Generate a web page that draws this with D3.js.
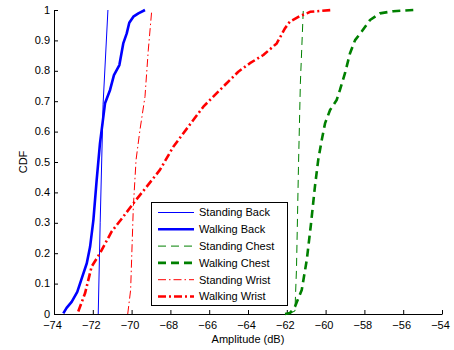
<!DOCTYPE html>
<html>
<head>
<meta charset="utf-8">
<script src="https://cdn.jsdelivr.net/npm/d3@7"></script>
<style>
  html, body { margin: 0; padding: 0; background: white; }
  svg { display: block; font-family: "Liberation Sans", Arial, Helvetica, sans-serif; }
</style>
</head>
<body>
<div id="chart"></div>
<script>
// CDF curves, [amplitude dB, cdf]
const standingBack = [[-71.72, 0], [-71.62, 0.3], [-71.47, 0.69], [-71.22, 1]];
const walkingBack = [
  [-73.52, 0.002], [-73.35, 0.02], [-73.09, 0.04], [-72.80, 0.073], [-72.57, 0.117],
  [-72.31, 0.167], [-72.14, 0.221], [-71.97, 0.309], [-71.80, 0.441], [-71.63, 0.561],
  [-71.37, 0.693], [-71.11, 0.737], [-70.91, 0.786], [-70.63, 0.819], [-70.43, 0.890],
  [-70.25, 0.923], [-70.12, 0.958], [-69.91, 0.978], [-69.65, 0.989], [-69.31, 1.0]
];
const standingChest = [[-61.90, 0], [-61.58, 0.01], [-61.50, 0.15], [-61.40, 0.48], [-61.30, 0.76], [-61.15, 1.0]];
const walkingChest = [
  [-62.09, 0], [-61.84, 0.003], [-61.58, 0.024], [-61.23, 0.079], [-60.97, 0.178],
  [-60.77, 0.287], [-60.55, 0.419], [-60.38, 0.507], [-60.20, 0.572], [-60.03, 0.627],
  [-59.77, 0.671], [-59.43, 0.704], [-59.26, 0.737], [-59.00, 0.792], [-58.74, 0.858],
  [-58.48, 0.901], [-58.14, 0.929], [-57.71, 0.967], [-57.20, 0.989], [-56.51, 0.996],
  [-55.48, 1.0]
];
const standingWrist = [
  [-70.20, 0], [-70.05, 0.079], [-69.91, 0.353], [-69.77, 0.507], [-69.57, 0.605],
  [-69.31, 0.715], [-69.14, 0.868], [-68.96, 1.0]
];
const walkingWrist = [
  [-72.75, 0.008], [-72.40, 0.068], [-72.06, 0.156], [-71.63, 0.2], [-71.03, 0.271],
  [-70.43, 0.32], [-69.91, 0.364], [-69.22, 0.419], [-68.54, 0.474], [-67.85, 0.55],
  [-67.34, 0.594], [-66.82, 0.638], [-66.30, 0.682], [-65.79, 0.715], [-65.10, 0.759],
  [-64.50, 0.797], [-63.90, 0.825], [-63.21, 0.852], [-62.52, 0.89], [-62.09, 0.94],
  [-61.84, 0.962], [-61.32, 0.98], [-60.97, 0.989], [-60.80, 0.994], [-59.69, 1.0]
];

const seriesNames = ["Standing Back", "Walking Back", "Standing Chest", "Walking Chest", "Standing Wrist", "Walking Wrist"];
const seriesData = [standingBack, walkingBack, standingChest, walkingChest, standingWrist, walkingWrist];

const xTicks = [-74, -72, -70, -68, -66, -64, -62, -60, -58, -56, -54];
const yTicks = [0, 0.1, 0.2, 0.3, 0.4, 0.5, 0.6, 0.7, 0.8, 0.9, 1];

// styles per series
const styles = [
  { color: "#0000ff", width: 1, dash: null },
  { color: "#0000ff", width: 2.6, dash: null },
  { color: "#008000", width: 1, dash: "8,5" },
  { color: "#008000", width: 2.6, dash: "8,5" },
  { color: "#ff0000", width: 1, dash: "8,3,1.5,3" },
  { color: "#ff0000", width: 2.6, dash: "8,3,2,3" }
];

const W = 454, H = 350;
const margin = { top: 10, right: 12, bottom: 36, left: 54 };

const svg = d3.select("#chart").append("svg")
  .attr("width", W)
  .attr("height", H)
  .style("background", "white");

const x = d3.scaleLinear().domain([-74, -54]).range([margin.left, W - margin.right]);
const y = d3.scaleLinear().domain([0, 1]).range([H - margin.bottom, margin.top]);

const fmtX = d => (d < 0 ? "\u2212" + Math.abs(d) : String(d));

// x axis
const gx = svg.append("g")
  .attr("transform", `translate(0,${y(0)})`)
  .call(d3.axisBottom(x).tickValues(xTicks).tickSizeInner(-4).tickSizeOuter(0).tickPadding(7).tickFormat(fmtX));
gx.select(".domain").attr("stroke", "#000").attr("stroke-width", 1);
gx.selectAll(".tick line").attr("stroke", "#000");
gx.selectAll(".tick text")
  .attr("font-size", 11)
  .attr("fill", "#000")
  .attr("font-family", "Liberation Sans, Arial, sans-serif")
  .attr("dx", -2);

// y axis
const gy = svg.append("g")
  .attr("transform", `translate(${x(-74)},0)`)
  .call(d3.axisLeft(y).tickValues(yTicks).tickSizeInner(-4).tickSizeOuter(0).tickPadding(4).tickFormat(d3.format("")));
gy.select(".domain").attr("stroke", "#000").attr("stroke-width", 1);
gy.selectAll(".tick line").attr("stroke", "#000");
gy.selectAll(".tick text")
  .attr("font-size", 11)
  .attr("fill", "#000")
  .attr("font-family", "Liberation Sans, Arial, sans-serif")
  .attr("dy", "0.28em");

// axis labels
svg.append("text")
  .attr("x", (x(-74) + x(-54)) / 2)
  .attr("y", 343)
  .attr("text-anchor", "middle")
  .attr("font-size", 11)
  .text("Amplitude (dB)");

svg.append("text")
  .attr("transform", `translate(27,${(y(0) + y(1)) / 2}) rotate(-90)`)
  .attr("text-anchor", "middle")
  .attr("font-size", 11)
  .text("CDF");

// curves
const line = d3.line().x(d => x(d[0])).y(d => y(d[1]));
svg.append("g")
  .selectAll("path")
  .data(seriesData)
  .join("path")
  .attr("d", line)
  .attr("fill", "none")
  .attr("stroke", (d, i) => styles[i].color)
  .attr("stroke-width", (d, i) => styles[i].width)
  .attr("stroke-dasharray", (d, i) => styles[i].dash)
  .attr("stroke-linejoin", "round");

// legend
const lg = svg.append("g").attr("transform", "translate(151,202)");
lg.append("rect")
  .attr("x", 0.5).attr("y", 0.5)
  .attr("width", 136).attr("height", 103)
  .attr("fill", "white")
  .attr("stroke", "#000")
  .attr("stroke-width", 1);

const rowH = 16.8;
const items = lg.selectAll("g.item")
  .data(seriesNames)
  .join("g")
  .attr("class", "item")
  .attr("transform", (d, i) => `translate(0,${10.5 + i * rowH})`);

items.append("line")
  .attr("x1", 7).attr("x2", 43)
  .attr("y1", 0).attr("y2", 0)
  .attr("stroke", (d, i) => styles[i].color)
  .attr("stroke-width", (d, i) => styles[i].width)
  .attr("stroke-dasharray", (d, i) => styles[i].dash);

items.append("text")
  .attr("x", 48)
  .attr("y", 0)
  .attr("dy", "0.35em")
  .attr("font-size", 11)
  .text(d => d);
</script>
</body>
</html>
